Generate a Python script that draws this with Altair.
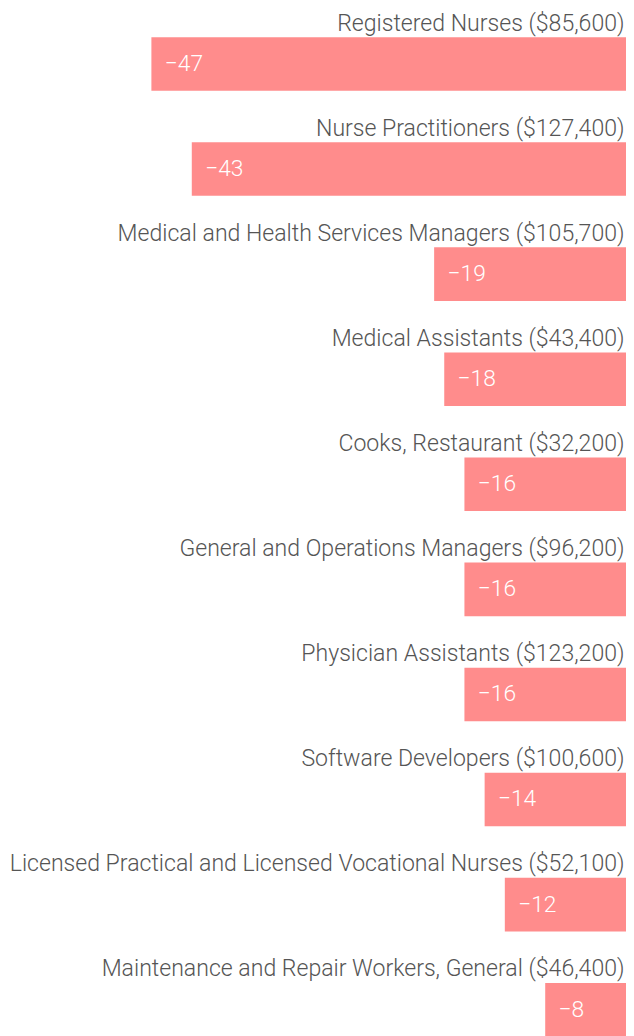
import altair as alt
import pandas as pd

jobs = ["Registered Nurses", "Nurse Practitioners", "Medical and Health Services Managers",
        "Medical Assistants", "Cooks, Restaurant", "General and Operations Managers",
        "Physician Assistants", "Software Developers",
        "Licensed Practical and Licensed Vocational Nurses",
        "Maintenance and Repair Workers, General"]
wages = ["$85,600", "$127,400", "$105,700", "$43,400", "$32,200", "$96,200",
         "$123,200", "$100,600", "$52,100", "$46,400"]
values = [-47, -43, -19, -18, -16, -16, -16, -14, -12, -8]

labels = [f"{j} ({w})" for j, w in zip(jobs, wages)]
df = pd.DataFrame({"label": labels, "value": values})

FONT = "Roboto"
xs = alt.Scale(domain=[-61.2, 0], nice=False, zero=False)
ys = alt.Scale(paddingInner=0.49, paddingOuter=0, range=[0, 1009])

base = alt.Chart(df)

bars = base.mark_bar(color="#ff8c8c").encode(
    x=alt.X("value:Q", scale=xs, axis=None),
    x2=alt.datum(0),
    y=alt.Y("label:N", sort=labels, scale=ys, axis=None),
)

vals = base.mark_text(align="left", baseline="alphabetic", dx=13.5, dy=7,
                      font=FONT, fontSize=23, fontWeight=300, color="white").encode(
    x=alt.X("value:Q", scale=xs, axis=None),
    y=alt.Y("label:N", sort=labels, scale=ys, axis=None),
    text=alt.Text("value:Q", format="d"),
)

cats = base.mark_text(align="right", baseline="alphabetic", dx=-1.5, dy=-6.5,
                      font=FONT, fontSize=23.3, fontWeight=300, color="#555555").encode(
    x=alt.datum(0),
    y=alt.Y("label:N", sort=labels, scale=ys, axis=None, bandPosition=0),
    text="label:N",
)

chart = alt.layer(bars, vals, cats).properties(
    width=624, height=1003,
    autosize=alt.AutoSizeParams(type="none"),
    padding={"top": 24.5, "left": 0, "right": 0, "bottom": 0},
).configure_view(stroke=None)

chart.save("out.html", embed_options={"renderer": "svg", "actions": False})
